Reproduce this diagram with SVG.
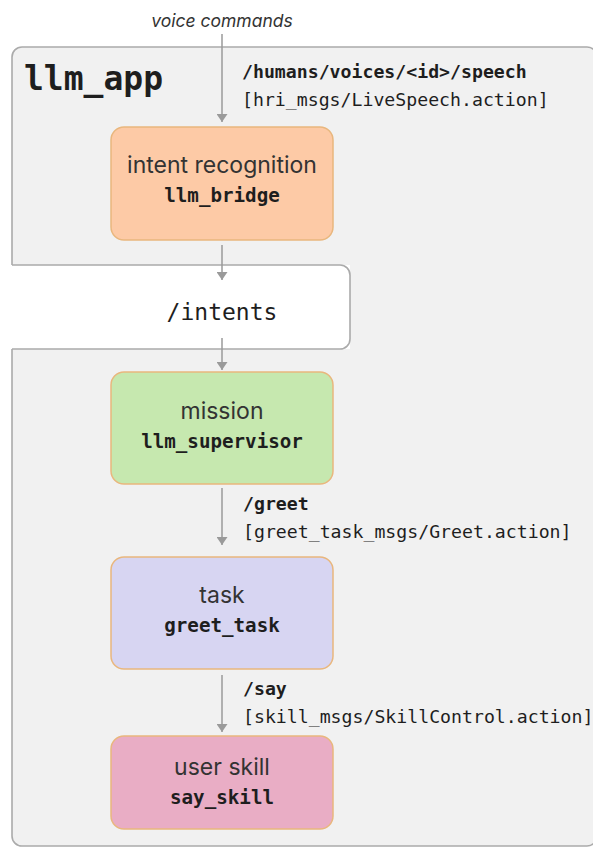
<svg xmlns="http://www.w3.org/2000/svg" width="593" height="848" viewBox="0 0 593 848">
<style>
.sans{font-family:Inter,"Noto Sans",sans-serif;fill:#333333;text-anchor:middle}
.mono{font-family:"DejaVu Sans Mono","Liberation Mono",monospace;fill:#1e1e1e}
.nb{font-weight:bold;font-size:19.2px;text-anchor:middle}
.lbl{font-size:18.2px}
.nt{font-size:23px}
.node{stroke:#e9b77e;stroke-width:1.5}
.conn{stroke:#9a9a9a;stroke-width:1.5;fill:none}
</style>
<defs>
<marker id="ah" viewBox="0 0 8 11" refX="8" refY="5.5" markerWidth="8" markerHeight="11" markerUnits="userSpaceOnUse" orient="auto">
<path d="M0,0 L8,5.5 L0,11 z" fill="#9a9a9a"/>
</marker>
</defs>
<rect width="593" height="848" fill="#ffffff"/>
<g id="llm_app">
<rect x="12" y="47" width="585" height="799" rx="10" fill="#f1f1f1" stroke="#ababab" stroke-width="1.6"/>
<text class="mono" x="24" y="90" font-size="33px" font-weight="bold">llm_app</text>
</g>
<g id="intents">
<rect x="0" y="265" width="350" height="84" fill="#ffffff"/>
<path d="M12,265 H340 A10,10 0 0 1 350,275 V339 A10,10 0 0 1 340,349 H12" fill="none" stroke="#ababab" stroke-width="1.6"/>
<text class="mono" x="222" y="320" font-size="23px" text-anchor="middle">/intents</text>
</g>
<g id="llm_bridge">
<rect class="node" x="111" y="127" width="222" height="113" rx="13" fill="#fdcaa6"/>
<text class="sans nt" x="222" y="173">intent recognition</text>
<text class="mono nb" x="222" y="202">llm_bridge</text>
</g>
<g id="llm_supervisor">
<rect class="node" x="111" y="372" width="222" height="112" rx="13" fill="#c6e8af"/>
<text class="sans nt" x="222" y="419">mission</text>
<text class="mono nb" x="222" y="448">llm_supervisor</text>
</g>
<g id="greet_task">
<rect class="node" x="111" y="557" width="222" height="112" rx="13" fill="#d7d5f2"/>
<text class="sans nt" x="222" y="603">task</text>
<text class="mono nb" x="222" y="632">greet_task</text>
</g>
<g id="say_skill">
<rect class="node" x="111" y="736" width="222" height="93" rx="13" fill="#e9adc5"/>
<text class="sans nt" x="222" y="775">user skill</text>
<text class="mono nb" x="222" y="804">say_skill</text>
</g>
<g id="connectors">
<text class="sans" x="222" y="27" font-size="17.5px" font-style="italic">voice commands</text>
<line class="conn" x1="222" y1="34" x2="222" y2="122" marker-end="url(#ah)"/>
<text class="mono lbl" x="242" y="78" font-weight="bold">/humans/voices/&lt;id&gt;/speech</text>
<text class="mono lbl" x="242" y="106">[hri_msgs/LiveSpeech.action]</text>
<line class="conn" x1="222" y1="245" x2="222" y2="280" marker-end="url(#ah)"/>
<line class="conn" x1="222" y1="338" x2="222" y2="370" marker-end="url(#ah)"/>
<line class="conn" x1="222" y1="488" x2="222" y2="545" marker-end="url(#ah)"/>
<text class="mono lbl" x="243" y="510" font-weight="bold">/greet</text>
<text class="mono lbl" x="243" y="538">[greet_task_msgs/Greet.action]</text>
<line class="conn" x1="222" y1="675" x2="222" y2="732" marker-end="url(#ah)"/>
<text class="mono lbl" x="243" y="695" font-weight="bold">/say</text>
<text class="mono lbl" x="243" y="723">[skill_msgs/SkillControl.action]</text>
</g>
</svg>
